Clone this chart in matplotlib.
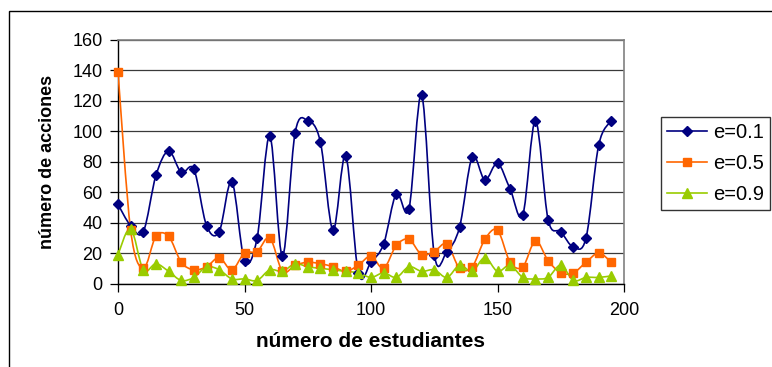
import numpy as np
import matplotlib
matplotlib.use('Agg')
import matplotlib.pyplot as plt
from matplotlib.path import Path
from matplotlib.patches import PathPatch, Rectangle
from matplotlib.lines import Line2D

plt.rcParams['font.family'] = ['Liberation Sans', 'DejaVu Sans']

# data
estudiantes = list(range(0, 200, 5))
e01 = [52, 38, 34, 71, 87, 73, 75, 38, 34, 67, 15, 30, 97, 18, 99, 107, 93, 35, 84, 7,
       14, 26, 59, 49, 124, 19, 21, 37, 83, 68, 79, 62, 45, 107, 42, 34, 24, 30, 91, 107]
e05 = [139, 35, 10, 31, 31, 14, 9, 11, 17, 9, 20, 21, 30, 8, 12, 14, 13, 11, 8, 12,
       18, 10, 25, 29, 19, 21, 26, 10, 11, 29, 35, 14, 11, 28, 15, 7, 7, 14, 20, 14]
e09 = [19, 36, 9, 13, 8, 2, 4, 11, 9, 3, 3, 2, 9, 8, 13, 11, 10, 9, 8, 7,
       4, 7, 4, 11, 8, 9, 4, 12, 8, 17, 8, 12, 4, 3, 4, 12, 2, 4, 4, 5]
labels = ['e=0.1', 'e=0.5', 'e=0.9']
colors = ['#000080', '#FF6600', '#99CC00']
markers = ['D', 's', '^']
msizes = [5.5, 5.5, 7]


def smooth_path(x, y):
    # excel-like smoothed line (bezier through the points)
    p = np.column_stack([x, y]).astype(float)
    n = len(p)
    verts = [p[0]]
    codes = [Path.MOVETO]
    for i in range(n - 1):
        p0 = p[i - 1] if i > 0 else p[i]
        p1 = p[i]
        p2 = p[i + 1]
        p3 = p[i + 2] if i + 2 < n else p[i + 1]
        c1 = p1 + (p2 - p0) / 6.0
        c2 = p2 - (p3 - p1) / 6.0
        verts += [c1, c2, p2]
        codes += [Path.CURVE4] * 3
    return Path(verts, codes)


fig = plt.figure(figsize=(7.72, 3.67), dpi=100)
ax = fig.add_axes([118/772, 1-283.5/367, 506/772, 243.5/367])

for ys, c in zip([e01, e05, e09], colors):
    patch = PathPatch(smooth_path(estudiantes, ys), facecolor='none',
                      edgecolor=c, lw=1.2, zorder=3)
    ax.add_patch(patch)
for ys, c, m, ms in zip([e01, e05, e09], colors, markers, msizes):
    ax.plot(estudiantes, ys, ls='none', marker=m, ms=ms, color=c,
            mec=c, zorder=4, clip_on=False)

ax.set_xlim(0, 200)
ax.set_ylim(0, 160)
ax.set_xticks([0, 50, 100, 150, 200])
ax.set_yticks(range(0, 161, 20))
ax.yaxis.grid(True, color='#3a3a3a', lw=0.9)
ax.set_axisbelow(True)
ax.tick_params(direction='out', length=6, width=0.9, labelsize=13, color='black')
ax.tick_params(axis='y', pad=5)
ax.tick_params(axis='x', pad=7)
for s in ['top', 'right']:
    ax.spines[s].set_color('#808080')
    ax.spines[s].set_linewidth(1.2)
for s in ['left', 'bottom']:
    ax.spines[s].set_color('black')
    ax.spines[s].set_linewidth(1.0)

ax.set_xlabel('número de estudiantes', fontsize=15, fontweight='bold', labelpad=10)
ax.set_ylabel('número de acciones', fontsize=13, fontweight='bold', labelpad=12)

handles = [Line2D([], [], color=c, marker=m, ms=ms, lw=1.2)
           for c, m, ms in zip(colors, markers, msizes)]
leg = fig.legend(handles, labels, loc='upper left',
                 bbox_to_anchor=(661/772, 1-117/367), fontsize=14.5,
                 frameon=True, fancybox=False, borderpad=0.3, labelspacing=0.6,
                 handlelength=2.0, handletextpad=0.3, borderaxespad=0)
leg.get_frame().set_edgecolor('black')
leg.get_frame().set_linewidth(1.0)

# outer chart frame
fig.add_artist(Rectangle((8.5/772, -0.2), 1.2, 1.2 - 10.5/367, transform=fig.transFigure,
                         fill=False, edgecolor='black', lw=1.0))

fig.savefig('out.png', dpi=100)
